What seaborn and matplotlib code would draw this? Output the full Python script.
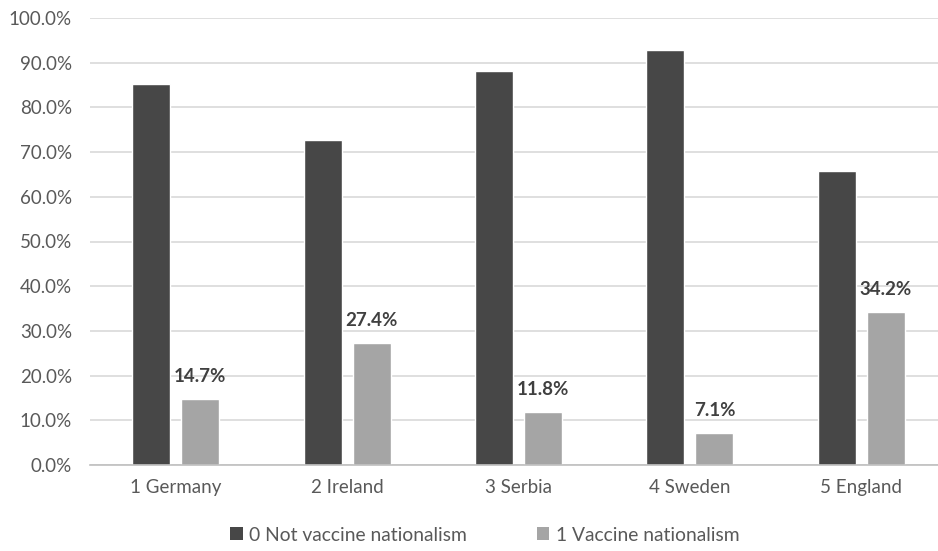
import matplotlib
matplotlib.use("Agg")
import matplotlib.pyplot as plt
import seaborn as sns
import pandas as pd
from matplotlib.ticker import PercentFormatter
from matplotlib.patches import Patch

countries = ["1 Germany", "2 Ireland", "3 Serbia", "4 Sweden", "5 England"]
series_names = ["0 Not vaccine nationalism", "1 Vaccine nationalism"]
not_vn = [85.3, 72.6, 88.2, 92.9, 65.8]
vn = [14.7, 27.4, 11.8, 7.1, 34.2]

df = pd.DataFrame({
    "country": countries * 2,
    "group": [series_names[0]] * 5 + [series_names[1]] * 5,
    "value": not_vn + vn,
})

sns.set_theme(style="white")
plt.rcParams["font.family"] = ["Lato", "DejaVu Sans"]

colors = {series_names[0]: "#474747", series_names[1]: "#a5a5a5"}

fig = plt.figure(figsize=(9.38, 5.51), dpi=100)
ax = fig.add_axes([90/938, 86/551, 857/938, 447/551])

sns.barplot(data=df, x="country", y="value", hue="group", palette=colors,
            width=0.572, gap=0.225, ax=ax, legend=False, saturation=1)

ax.set_ylim(0, 100)
ax.set_yticks(range(0, 101, 10))
ax.yaxis.set_major_formatter(PercentFormatter(100, decimals=1))
ax.grid(axis="y", color="#d9d9d9", linewidth=1.2)
ax.set_axisbelow(True)
for s in ["top", "right", "left"]:
    ax.spines[s].set_visible(False)
ax.spines["bottom"].set_color("#bfbfbf")
ax.spines["bottom"].set_linewidth(1.2)
ax.set_xlabel("")
ax.set_ylabel("")
ax.tick_params(axis="both", length=0, labelsize=13.5, labelcolor="#595959")
ax.tick_params(axis="x", pad=10)
ax.tick_params(axis="y", pad=13)

# data labels on the second series
cont = ax.containers[1]
ax.bar_label(cont, labels=[f"{v:.1f}%" for v in vn], padding=10,
             fontsize=13.5, fontweight="bold", color="#404040")

handles = [Patch(facecolor=colors[n], edgecolor="none") for n in series_names]
fig.legend(handles, series_names, loc="lower center", bbox_to_anchor=(0.517, -0.018),
           ncol=2, frameon=False, fontsize=13.9, labelcolor="#595959",
           handlelength=0.65, handleheight=0.65, handletextpad=0.35, columnspacing=3.6)

fig.savefig("out.png", dpi=100)
